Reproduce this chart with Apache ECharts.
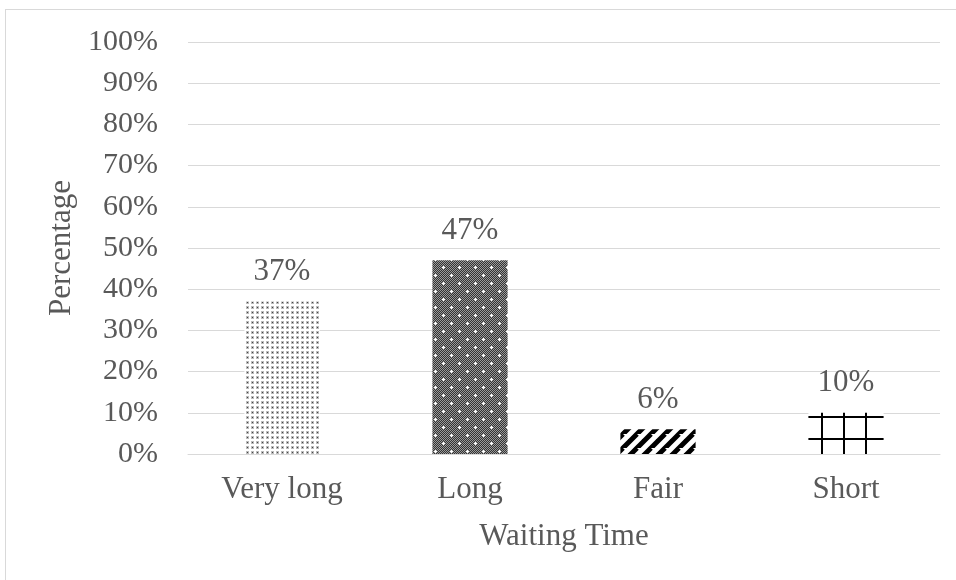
<!DOCTYPE html>
<html>
<head>
<meta charset="utf-8">
<script src="https://cdn.jsdelivr.net/npm/echarts@6/dist/echarts.min.js"></script>
<style>
  html, body { margin: 0; padding: 0; background: #fff; }
  #frame { position: absolute; left: 5px; top: 9px; width: 960px; height: 580px; border: 1px solid #d9d9d9; box-sizing: border-box; }
  #chart { position: absolute; left: 0; top: 0; width: 956px; height: 580px; }
</style>
</head>
<body>
<div id="frame"></div>
<div id="chart"></div>
<script>
  const categories = ['Very long', 'Long', 'Fair', 'Short'];
  const values = [37, 47, 6, 10];
  const yTicks = [0, 10, 20, 30, 40, 50, 60, 70, 80, 90, 100];

  // little canvas tiles used as bar fills
  function tile(w, h, draw) {
    const c = document.createElement('canvas');
    c.width = w; c.height = h;
    draw(c.getContext('2d'));
    return c;
  }

  const dots = tile(5, 5, function (g) {
    g.fillStyle = '#fff'; g.fillRect(0, 0, 5, 5);
    g.fillStyle = '#bbb'; g.fillRect(1, 1, 3, 3);
    g.fillStyle = '#444'; g.fillRect(2, 2, 1, 1);
  });

  const checker = tile(16, 16, function (g) {
    for (let y = 0; y < 16; y++) {
      for (let x = 0; x < 16; x++) {
        g.fillStyle = (x + y) % 2 ? '#333' : '#9a9a9a';
        g.fillRect(x, y, 1, 1);
      }
    }
    g.fillStyle = '#fff';
    [[3, 3], [11, 11]].forEach(function (p) {
      g.fillRect(p[0] - 1, p[1], 3, 1);
      g.fillRect(p[0], p[1] - 1, 1, 3);
    });
  });

  const stripes = tile(14, 14, function (g) {
    g.fillStyle = '#fff'; g.fillRect(0, 0, 14, 14);
    g.strokeStyle = '#000'; g.lineWidth = 5;
    g.beginPath();
    g.moveTo(-7, 14); g.lineTo(7, 0);
    g.moveTo(0, 21); g.lineTo(21, 0);
    g.moveTo(7, 14); g.lineTo(14, 7);
    g.stroke();
  });

  const grid = tile(22, 22, function (g) {
    g.fillStyle = '#fff'; g.fillRect(0, 0, 22, 22);
    g.fillStyle = '#000';
    g.fillRect(7, 0, 2, 22);
    g.fillRect(0, 20, 22, 2);
  });

  const fills = [dots, checker, stripes, grid];

  const myChart = echarts.init(document.getElementById('chart'));
  const font = 'Liberation Serif';
  const ink = '#595959';

  const option = {
    animation: false,
    grid: { left: 188, right: 16, top: 42, bottom: 126 },
    xAxis: {
      type: 'category',
      data: categories,
      name: 'Waiting Time',
      nameLocation: 'middle',
      nameGap: 67,
      nameTextStyle: { fontFamily: font, fontSize: 31, color: ink },
      axisTick: { show: false },
      axisLine: { lineStyle: { color: '#d9d9d9', width: 1 } },
      axisLabel: { fontFamily: font, fontSize: 31, color: ink, margin: 20 }
    },
    yAxis: {
      type: 'value',
      min: yTicks[0],
      max: yTicks[yTicks.length - 1],
      interval: 10,
      name: 'Percentage',
      nameLocation: 'middle',
      nameGap: 109,
      nameTextStyle: { fontFamily: font, fontSize: 31, color: ink },
      axisLine: { show: false },
      axisTick: { show: false },
      axisLabel: { fontFamily: font, fontSize: 30, color: ink, margin: 30, formatter: '{value}%' },
      splitLine: { lineStyle: { color: '#d9d9d9', width: 1 } }
    },
    series: [
      {
        type: 'bar',
        barWidth: '40%',
        data: values.map(function (v, i) {
          return { value: v, itemStyle: { color: { image: fills[i], repeat: 'repeat' } } };
        }),
        label: {
          show: true,
          position: 'top',
          distance: 14,
          formatter: '{c}%',
          fontFamily: font,
          fontSize: 31,
          color: ink
        }
      }
    ]
  };

  myChart.setOption(option);
</script>
</body>
</html>
